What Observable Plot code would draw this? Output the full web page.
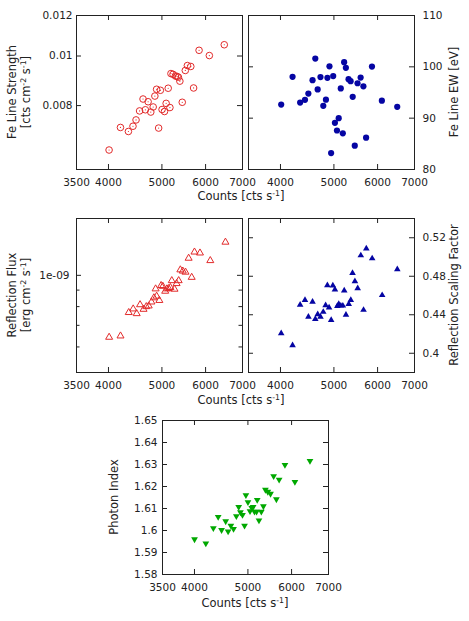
<!DOCTYPE html>
<html><head><meta charset="utf-8">
<script src="https://cdn.jsdelivr.net/npm/d3@7"></script>
<script src="https://cdn.jsdelivr.net/npm/@observablehq/plot@0.6"></script>
<style>
body{margin:0;background:#fff;}
#fig{position:relative;width:469px;height:621px;font-family:"DejaVu Sans",sans-serif;color:#222;overflow:hidden;}
.lbl{position:absolute;white-space:nowrap;font-size:11.5px;line-height:1;transform:translate(-50%,-50%);}
.rot{transform:translate(-50%,-50%) rotate(-90deg);}
sup{font-size:0.68em;vertical-align:0;position:relative;top:-0.55em;}
</style></head><body><div id="fig"></div>
<script>
// ---- data ----
const countsFeStrength = [4010,4205,4347,4431,4488,4555,4621,4666,4720,4773,4821,4855,4890,4932,4968,5003,5054,5089,5133,5170,5192,5237,5289,5327,5357,5389,5443,5513,5561,5641,5707,5839,6095,6487];
const feLineStrength = [0.00655,0.00725,0.00712,0.00729,0.00750,0.00781,0.00824,0.00785,0.00814,0.00777,0.00795,0.00835,0.00861,0.00723,0.00857,0.00786,0.00779,0.00808,0.00865,0.00793,0.00924,0.00921,0.00914,0.00912,0.00909,0.00893,0.00812,0.00937,0.00958,0.00954,0.00866,0.01026,0.01002,0.01052];

const countsFeEW = [4012,4207,4342,4431,4494,4573,4626,4672,4727,4783,4836,4866,4908,4942,4985,5021,5064,5101,5145,5189,5218,5256,5315,5361,5408,5455,5518,5590,5655,5719,5861,6108,6513];
const feLineEW = [92.65,98.05,93.04,93.57,94.8,97.4,101.6,95.6,98.0,92.4,93.6,97.85,100.1,83.2,98.2,89.1,87.6,90.0,95.8,87.05,100.9,99.8,97.6,97.2,94.15,84.65,96.8,97.9,96.2,86.2,100.05,93.4,92.2];

const countsReflFlux = [4011,4206,4353,4435,4500,4564,4631,4684,4732,4786,4835,4891,4947,4870,4983,5019,5069,5106,5143,5180,5210,5270,5316,5362,5400,5455,5518,5590,5662,5728,5861,6119,6519];
const reflectionFlux = [6.43e-10,6.49e-10,7.67e-10,7.87e-10,7.61e-10,8.11e-10,7.85e-10,8.00e-10,8.04e-10,8.27e-10,8.52e-10,8.62e-10,8.36e-10,9.08e-10,9.30e-10,9.25e-10,8.93e-10,9.08e-10,9.10e-10,9.17e-10,9.63e-10,9.06e-10,9.43e-10,9.63e-10,1.040e-9,1.031e-9,1.023e-9,1.130e-9,9.86e-10,1.181e-9,1.173e-9,1.111e-9,1.267e-9];

const countsReflScale = [4012,4207,4342,4431,4495,4573,4626,4673,4727,4782,4830,4865,4900,4943,4978,5021,5072,5102,5146,5190,5220,5258,5319,5365,5404,5458,5522,5594,5658,5724,5866,6116,6515];
const reflectionScaling = [0.4208,0.4082,0.4504,0.4552,0.4378,0.4535,0.4354,0.4405,0.4378,0.4429,0.4497,0.4706,0.4474,0.4344,0.4702,0.4661,0.4491,0.4511,0.4494,0.4494,0.4651,0.4399,0.4511,0.4552,0.4832,0.4747,0.4675,0.5016,0.4450,0.5087,0.4985,0.4603,0.4873];

const countsPhoton = [4001,4194,4328,4416,4479,4557,4603,4656,4709,4764,4811,4846,4888,4930,4958,5001,5044,5081,5110,5139,5184,5198,5236,5288,5334,5379,5433,5495,5567,5631,5696,5836,6084,6479];
const photonIndex = [1.5960,1.5941,1.6011,1.6062,1.6002,1.6042,1.5996,1.6022,1.6007,1.6065,1.6107,1.6083,1.6071,1.6022,1.6161,1.6129,1.6088,1.6103,1.6107,1.6086,1.6086,1.6139,1.6046,1.6086,1.6110,1.6185,1.6176,1.6167,1.6247,1.6142,1.6231,1.6298,1.6221,1.6316];

const xDomain = [3500, 7000];
const xTicksAll = [3500,4000,5000,6000,7000];
const xTicksRight = [4000,5000,6000,7000];
const feStrengthTicks = [0.006,0.008,0.01,0.012];
const feStrengthLabels = [0.008,0.01,0.012];
const feEWTicks = [80,90,100,110];
const fluxMajor = [1e-9];
const fluxMinor = [6e-10,7e-10,8e-10,9e-10];
const scalingTicks = [0.4,0.44,0.48,0.52];
const photonTicks = [1.58,1.59,1.6,1.61,1.62,1.63,1.64,1.65];

const RED = "#e22a2a", BLUE = "#0505a3", GREEN = "#00a800", INK = "#222";

const fig = document.getElementById("fig");

function panel(o){
  const w = 166, h = 154;
  const pts = o.x.map((v,i)=>({x:v, y:o.y[i]}));
  const marks = [
    Plot.frame({stroke: INK}),
    Plot.ruleX(xTicksAll, {x: d=>d, insetTop: h-5, stroke: INK}),
    Plot.ruleX(xTicksAll, {x: d=>d, insetBottom: h-5, stroke: INK}),
    Plot.ruleY(o.yTicks, {y: d=>d, insetRight: w-5, stroke: INK}),
    Plot.ruleY(o.yTicks, {y: d=>d, insetLeft: w-5, stroke: INK}),
    Plot.axisX({ticks: o.xLabels, anchor: "bottom", tickSize: 0, tickPadding: 9, tickFormat: d=>String(d), label: null, fill: INK}),
    Plot.axisY({ticks: o.yLabels, anchor: o.yAnchor, tickSize: 0, tickPadding: o.yPad, tickFormat: o.yFormat, label: null, fill: INK}),
    Plot.dot(pts, {x: "x", y: "y", ...o.dot})
  ];
  if (o.minor) {
    marks.push(Plot.ruleY(o.minor, {y: d=>d, insetRight: w-3.5, stroke: INK}));
    marks.push(Plot.ruleY(o.minor, {y: d=>d, insetLeft: w-3.5, stroke: INK}));
  }
  if (o.center) marks.push(Plot.dot(pts, {x: "x", y: "y", r: 0.6, fill: RED, stroke: "none"}));
  const svg = Plot.plot({
    width: w, height: h,
    marginLeft: 0, marginRight: 0, marginTop: 0, marginBottom: 0,
    style: {background: "transparent", overflow: "visible", fontFamily: "DejaVu Sans", fontSize: "10.5px", color: INK},
    x: {type: "log", domain: xDomain},
    y: {type: o.yType, domain: o.yDomain},
    marks
  });
  svg.style.position = "absolute";
  svg.style.left = o.left + "px";
  svg.style.top = o.top + "px";
  fig.appendChild(svg);
}

const fmtPlain = d => String(+d.toFixed(3));

panel({left: 76, top: 15, x: countsFeStrength, y: feLineStrength, yType: "log", yDomain: [0.006, 0.012],
  yTicks: feStrengthTicks, yLabels: feStrengthLabels, yAnchor: "left", yPad: 4, yFormat: fmtPlain,
  xLabels: xTicksAll, dot: {r: 3.3, stroke: RED, fill: "none", strokeWidth: 1}, center: true});

panel({left: 248, top: 15, x: countsFeEW, y: feLineEW, yType: "linear", yDomain: [80, 110],
  yTicks: feEWTicks, yLabels: feEWTicks, yAnchor: "right", yPad: 8, yFormat: fmtPlain,
  xLabels: xTicksRight, dot: {r: 3.1, fill: BLUE, stroke: "none"}});

panel({left: 76, top: 218, x: countsReflFlux, y: reflectionFlux, yType: "log", yDomain: [5e-10, 1.5e-9],
  yTicks: fluxMajor, minor: fluxMinor, yLabels: fluxMajor, yAnchor: "left", yPad: 7, yFormat: d => "1e-09",
  xLabels: xTicksAll, dot: {symbol: "triangle", r: 2.6, stroke: RED, fill: "none", strokeWidth: 1}});

panel({left: 248, top: 218, x: countsReflScale, y: reflectionScaling, yType: "linear", yDomain: [0.38, 0.54],
  yTicks: scalingTicks, yLabels: scalingTicks, yAnchor: "right", yPad: 8, yFormat: fmtPlain,
  xLabels: xTicksRight, dot: {symbol: "triangle", r: 2.45, fill: BLUE, stroke: "none"}});

panel({left: 162, top: 420, x: countsPhoton, y: photonIndex, yType: "linear", yDomain: [1.58, 1.65],
  yTicks: photonTicks, yLabels: photonTicks, yAnchor: "left", yPad: 5, yFormat: fmtPlain,
  xLabels: xTicksAll, dot: {symbol: "triangle", rotate: 180, r: 2.5, fill: GREEN, stroke: "none"}});

// ---- axis titles ----
const countsTitle = "Counts [cts s<sup>-1</sup>]";
const titles = [
  {html: "Fe Line Strength", x: 12.5, y: 92, rot: true},
  {html: "[cts cm<sup>-2</sup> s<sup>-1</sup>]", x: 26.5, y: 92, rot: true},
  {html: "Fe Line EW [eV]", x: 455, y: 92, rot: true},
  {html: countsTitle, x: 241, y: 197},
  {html: "Reflection Flux", x: 12.5, y: 295, rot: true},
  {html: "[erg cm<sup>-2</sup> s<sup>-1</sup>]", x: 26.5, y: 295, rot: true},
  {html: "Reflection Scaling Factor", x: 455, y: 295, rot: true},
  {html: countsTitle, x: 241, y: 401},
  {html: "Photon Index", x: 115, y: 497, rot: true},
  {html: countsTitle, x: 245, y: 604}
];
for (const t of titles) {
  const d = document.createElement("div");
  d.className = "lbl" + (t.rot ? " rot" : "");
  d.style.left = t.x + "px";
  d.style.top = t.y + "px";
  d.innerHTML = t.html;
  fig.appendChild(d);
}
</script>
</body></html>
